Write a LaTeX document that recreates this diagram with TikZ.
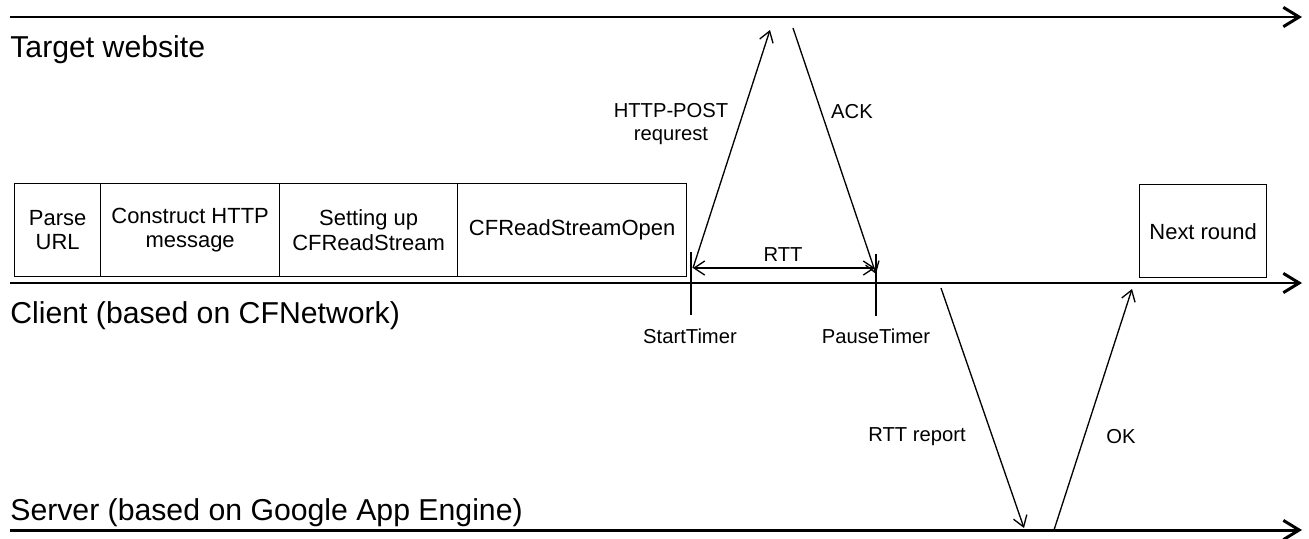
\documentclass[tikz,border=0pt]{standalone}
\usepackage{fontspec}
\setmainfont{Liberation Sans}
\usetikzlibrary{arrows.meta}
\begin{document}
\begin{tikzpicture}[x=0.02cm,y=-0.02cm,
  timeline/.style={line width=1.7pt,-{Straight Barb[length=9pt,width=11pt,line width=1.7pt]}},
  msg/.style={line width=0.75pt,-{Straight Barb[length=6pt,width=8pt,line width=0.75pt]}},
  span/.style={line width=0.75pt,{Straight Barb[length=6pt,width=8pt,line width=0.75pt]}-{Straight Barb[length=6pt,width=8pt,line width=0.75pt]}},
  tick/.style={line width=0.75pt},
  stepbox/.style={draw,line width=0.75pt,minimum height=1.86cm,inner sep=0pt,align=center,anchor=north west,font=\fontsize{12.5}{14}\selectfont},
  biglabel/.style={anchor=west,inner sep=0pt,font=\fontsize{17.2}{20}\selectfont},
  smalllabel/.style={inner sep=0pt,align=center,font=\fontsize{11.5}{13.5}\selectfont}]
\useasboundingbox (0,0) rectangle (1309,538);
% timelines
\coordinate (tws) at (10,17); \coordinate (twe) at (1302,17);
\coordinate (cls) at (10,283); \coordinate (cle) at (1302,283);
\coordinate (svs) at (10,530); \coordinate (sve) at (1302,530);
\draw[timeline] (tws) -- (twe);
\draw[timeline] (cls) -- (cle);
\draw[timeline] (svs) -- (sve);
% labels
\node[biglabel] (tw) at (10,50) {Target website};
\node[biglabel] (cl) at (10,316) {Client (based on CFNetwork)};
\node[biglabel] (sv) at (10,513) {Server (based on Google App Engine)};
% boxes
\node[stepbox,minimum width=1.72cm] (b1) at (14,183) {Parse\\URL};
\node[stepbox,minimum width=3.58cm] (b2) at (100,183) {Construct HTTP\\message};
\node[stepbox,minimum width=3.56cm] (b3) at (279,183) {Setting up\\CFReadStream};
\node[stepbox,minimum width=4.58cm] (b4) at (457,183) {CFReadStreamOpen};
\node[stepbox,minimum width=2.54cm] (b5) at (1139,184) {Next round};
% timer ticks
\coordinate (st1) at (691,252); \coordinate (st2) at (691,315);
\coordinate (pt1) at (876,254); \coordinate (pt2) at (876,316);
\draw[tick] (st1) -- (st2);
\draw[tick] (pt1) -- (pt2);
\node[smalllabel] (stl) at (690,336) {StartTimer};
\node[smalllabel] (ptl) at (876,336) {PauseTimer};
% RTT span
\coordinate (r1) at (693,268); \coordinate (r2) at (875,268);
\draw[span] (r1) -- (r2);
\node[smalllabel] (rttl) at (783,255) {RTT};
% HTTP POST and ACK
\coordinate (p1) at (693,268); \coordinate (p2) at (770,30);
\draw[msg] (p1) -- (p2);
\node[smalllabel] (pl) at (671,124) {HTTP-POST\\requrest};
\coordinate (a1) at (793,28); \coordinate (a2) at (876,274);
\draw[msg] (a1) -- (a2);
\node[smalllabel] (al) at (852,112) {ACK};
% RTT report and OK
\coordinate (q1) at (941,288); \coordinate (q2) at (1024,528);
\draw[msg] (q1) -- (q2);
\node[smalllabel] (ql) at (917,437) {RTT report};
\coordinate (o1) at (1054,530); \coordinate (o2) at (1132,289);
\draw[msg] (o1) -- (o2);
\node[smalllabel] (ol) at (1121,437) {OK};
\end{tikzpicture}
\end{document}
